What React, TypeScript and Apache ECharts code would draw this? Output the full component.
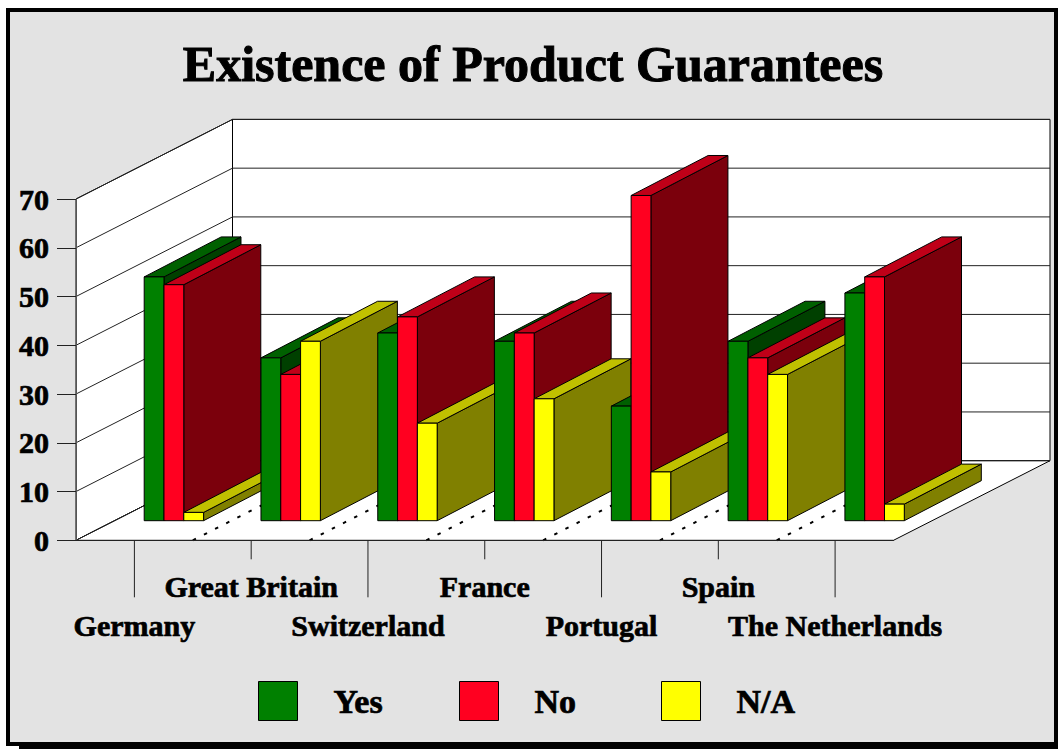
import React, { useEffect, useRef } from "react";
import * as echarts from "echarts";

const titleText = "Existence of Product Guarantees";
const categories = ["Germany", "Great Britain", "Switzerland", "France", "Portugal", "Spain", "The Netherlands"];
const yesValues = [50, 33.4, 38.5, 36.8, 23.5, 36.8, 46.7];
const noValues = [48.4, 30, 41.8, 38.5, 66.7, 33.4, 50];
const naValues = [1.7, 36.8, 20, 25, 10, 30, 3.4];
const valueTicks = [0, 10, 20, 30, 40, 50, 60, 70];
const FONT = "'Liberation Serif', serif";

const WALL_DX = 156.5;
const WALL_DY = -79.6;
const BAR_DEPTH_X = 77;
const BAR_DEPTH_Y = -40;
const FLOOR_DY = -19.6;
const BAR_W = 19.8;
const FIRST_BAR_OFFSET = 9.8;

const palettes = [
  { front: "#008000", top: "#006000", side: "#004000" },
  { front: "#ff0020", top: "#bf0018", side: "#7b000c" },
  { front: "#ffff00", top: "#c0c000", side: "#808000" },
];
const EDGE = { stroke: "#000", lineWidth: 1 };

function barRender(seriesIndex: number) {
  return (params: any, api: any) => {
    const cat = api.value(0);
    const val = api.value(1);
    const [cx, y0] = api.coord([cat, 0]);
    const [, yv] = api.coord([cat, val]);
    const x0 = cx + FIRST_BAR_OFFSET + seriesIndex * BAR_W;
    const x1 = x0 + BAR_W;
    const base = y0 + FLOOR_DY;
    const top = yv + FLOOR_DY;
    const dx = BAR_DEPTH_X;
    const dy = BAR_DEPTH_Y;
    const p = palettes[seriesIndex];
    const z2 = cat * 10 + seriesIndex;
    const poly = (points: number[][], fill: string) => ({
      type: "polygon",
      z2,
      shape: { points },
      style: { fill, ...EDGE },
    });
    return {
      type: "group",
      children: [
        poly([[x1, base], [x1 + dx, base + dy], [x1 + dx, top + dy], [x1, top]], p.side),
        poly([[x0, top], [x1, top], [x1 + dx, top + dy], [x0 + dx, top + dy]], p.top),
        poly([[x0, base], [x1, base], [x1, top], [x0, top]], p.front),
      ],
    };
  };
}

function wallRender(params: any, api: any) {
  const band = api.size([1, 0])[0];
  const [cFirst, y0] = api.coord([0, 0]);
  const [, yTop] = api.coord([0, 70]);
  const xL = cFirst - band / 2;
  const xR = xL + band * categories.length;
  const dx = WALL_DX;
  const dy = WALL_DY;
  const z2 = -20;
  const children: any[] = [
    { type: "polygon", z2, shape: { points: [[xL, y0], [xL + dx, y0 + dy], [xL + dx, yTop + dy], [xL, yTop]] }, style: { fill: "#fff", stroke: "#000", lineWidth: 1 } },
    { type: "polygon", z2, shape: { points: [[xL + dx, y0 + dy], [xR + dx, y0 + dy], [xR + dx, yTop + dy], [xL + dx, yTop + dy]] }, style: { fill: "#fff", stroke: "#000", lineWidth: 1 } },
    { type: "polygon", z2, shape: { points: [[xL, y0], [xR, y0], [xR + dx, y0 + dy], [xL + dx, y0 + dy]] }, style: { fill: "#fff", stroke: "#000", lineWidth: 1 } },
  ];
  valueTicks.forEach((v) => {
    const [, y] = api.coord([0, v]);
    children.push({ type: "polyline", z2: -10, shape: { points: [[xL, y], [xL + dx, y + dy], [xR + dx, y + dy]] }, style: { fill: "none", stroke: "#222", lineWidth: 1 } });
  });
  categories.forEach((_, i) => {
    if (i === 0) return;
    const x = xL + band * i;
    children.push({ type: "line", z2: -5, shape: { x1: x, y1: y0, x2: x + dx, y2: y0 + dy }, style: { stroke: "#000", lineWidth: 2, lineDash: [3.5, 9] } });
  });
  categories.forEach((_, i) => {
    const [cx] = api.coord([i, 0]);
    children.push({ type: "line", z2: 500, shape: { x1: cx, y1: y0, x2: cx, y2: y0 + (i % 2 === 0 ? 57 : 19) }, style: { stroke: "#222", lineWidth: 1 } });
  });
  return { type: "group", children };
}

export default function App() {
  const ref = useRef<HTMLDivElement>(null);
  useEffect(() => {
    document.body.style.margin = "0";
    const chart = echarts.init(ref.current!, undefined, { renderer: "svg" });
    const barSeries = [yesValues, noValues, naValues].map((vals, si) => ({
      type: "custom",
      name: ["Yes", "No", "N/A"][si],
      coordinateSystem: "cartesian2d",
      clip: false,
      silent: true,
      z: 2,
      itemStyle: { color: palettes[si].front },
      data: vals.map((v, i) => [i, v]),
      encode: { x: 0, y: 1 },
      renderItem: barRender(si),
    }));
    const legendText = {
      fontFamily: FONT,
      fontWeight: "bold" as const,
      fontSize: 34,
      color: "#000",
      textBorderColor: "#000",
      textBorderWidth: 0.7,
      padding: [0, 0, 0, 31],
    };
    const legendAt = (name: string, left: number, color: string) => ({
      show: true,
      left,
      top: 681,
      padding: 0,
      itemWidth: 39,
      itemHeight: 39,
      icon: "rect",
      selectedMode: false,
      data: [{ name, itemStyle: { color, borderColor: "#000", borderWidth: 1 } }],
      textStyle: legendText,
    });
    chart.setOption({
      animation: false,
      backgroundColor: "#fff",
      title: {
        text: titleText,
        left: 533,
        textAlign: "center",
        top: 39,
        padding: 0,
        textStyle: { fontFamily: FONT, fontWeight: "bold", fontSize: 50, color: "#000", textBorderColor: "#000", textBorderWidth: 1 },
      },
      legend: [legendAt("Yes", 258, palettes[0].front), legendAt("No", 459, palettes[1].front), legendAt("N/A", 661, palettes[2].front)],
      graphic: [
        { type: "rect", z: -1, silent: true, shape: { x: 6, y: 8, width: 1052, height: 738 }, style: { fill: "#000" } },
        { type: "rect", z: -1, silent: true, shape: { x: 19, y: 742, width: 1039, height: 7 }, style: { fill: "#000" } },
        { type: "rect", z: -1, silent: true, shape: { x: 10, y: 12, width: 1044, height: 730 }, style: { fill: "#e3e3e3" } },
      ],
      grid: { left: 76, top: 199, width: 817.5, height: 341.3, containLabel: false },
      xAxis: {
        type: "category",
        data: categories,
        z: 5,
        axisLine: { show: true, lineStyle: { color: "#222", width: 1 } },
        axisTick: { show: false },
        axisLabel: {
          interval: 0,
          margin: 27,
          hideOverlap: false,
          fontFamily: FONT,
          fontWeight: "bold",
          fontSize: 30,
          lineHeight: 39,
          color: "#000",
          textBorderColor: "#000",
          textBorderWidth: 0.7,
          formatter: (v: string, i: number) => (i % 2 === 0 ? "\n" + v : v),
        },
      },
      yAxis: {
        type: "value",
        min: 0,
        max: 70,
        interval: 10,
        z: 5,
        splitLine: { show: false },
        axisLine: { show: true, lineStyle: { color: "#555", width: 1 } },
        axisTick: { show: true, length: 19, lineStyle: { color: "#222", width: 1 } },
        axisLabel: { margin: 27, fontFamily: FONT, fontWeight: "bold", fontSize: 30, color: "#000", textBorderColor: "#000", textBorderWidth: 0.7 },
      },
      series: [
        {
          type: "custom",
          coordinateSystem: "cartesian2d",
          clip: false,
          silent: true,
          z: 2,
          data: [[0, 0]],
          encode: { x: 0, y: 1 },
          renderItem: wallRender,
        },
        ...barSeries,
      ],
    });
    return () => chart.dispose();
  }, []);
  return <div ref={ref} style={{ position: "absolute", left: 0, top: 0, width: 1058, height: 749 }} />;
}
